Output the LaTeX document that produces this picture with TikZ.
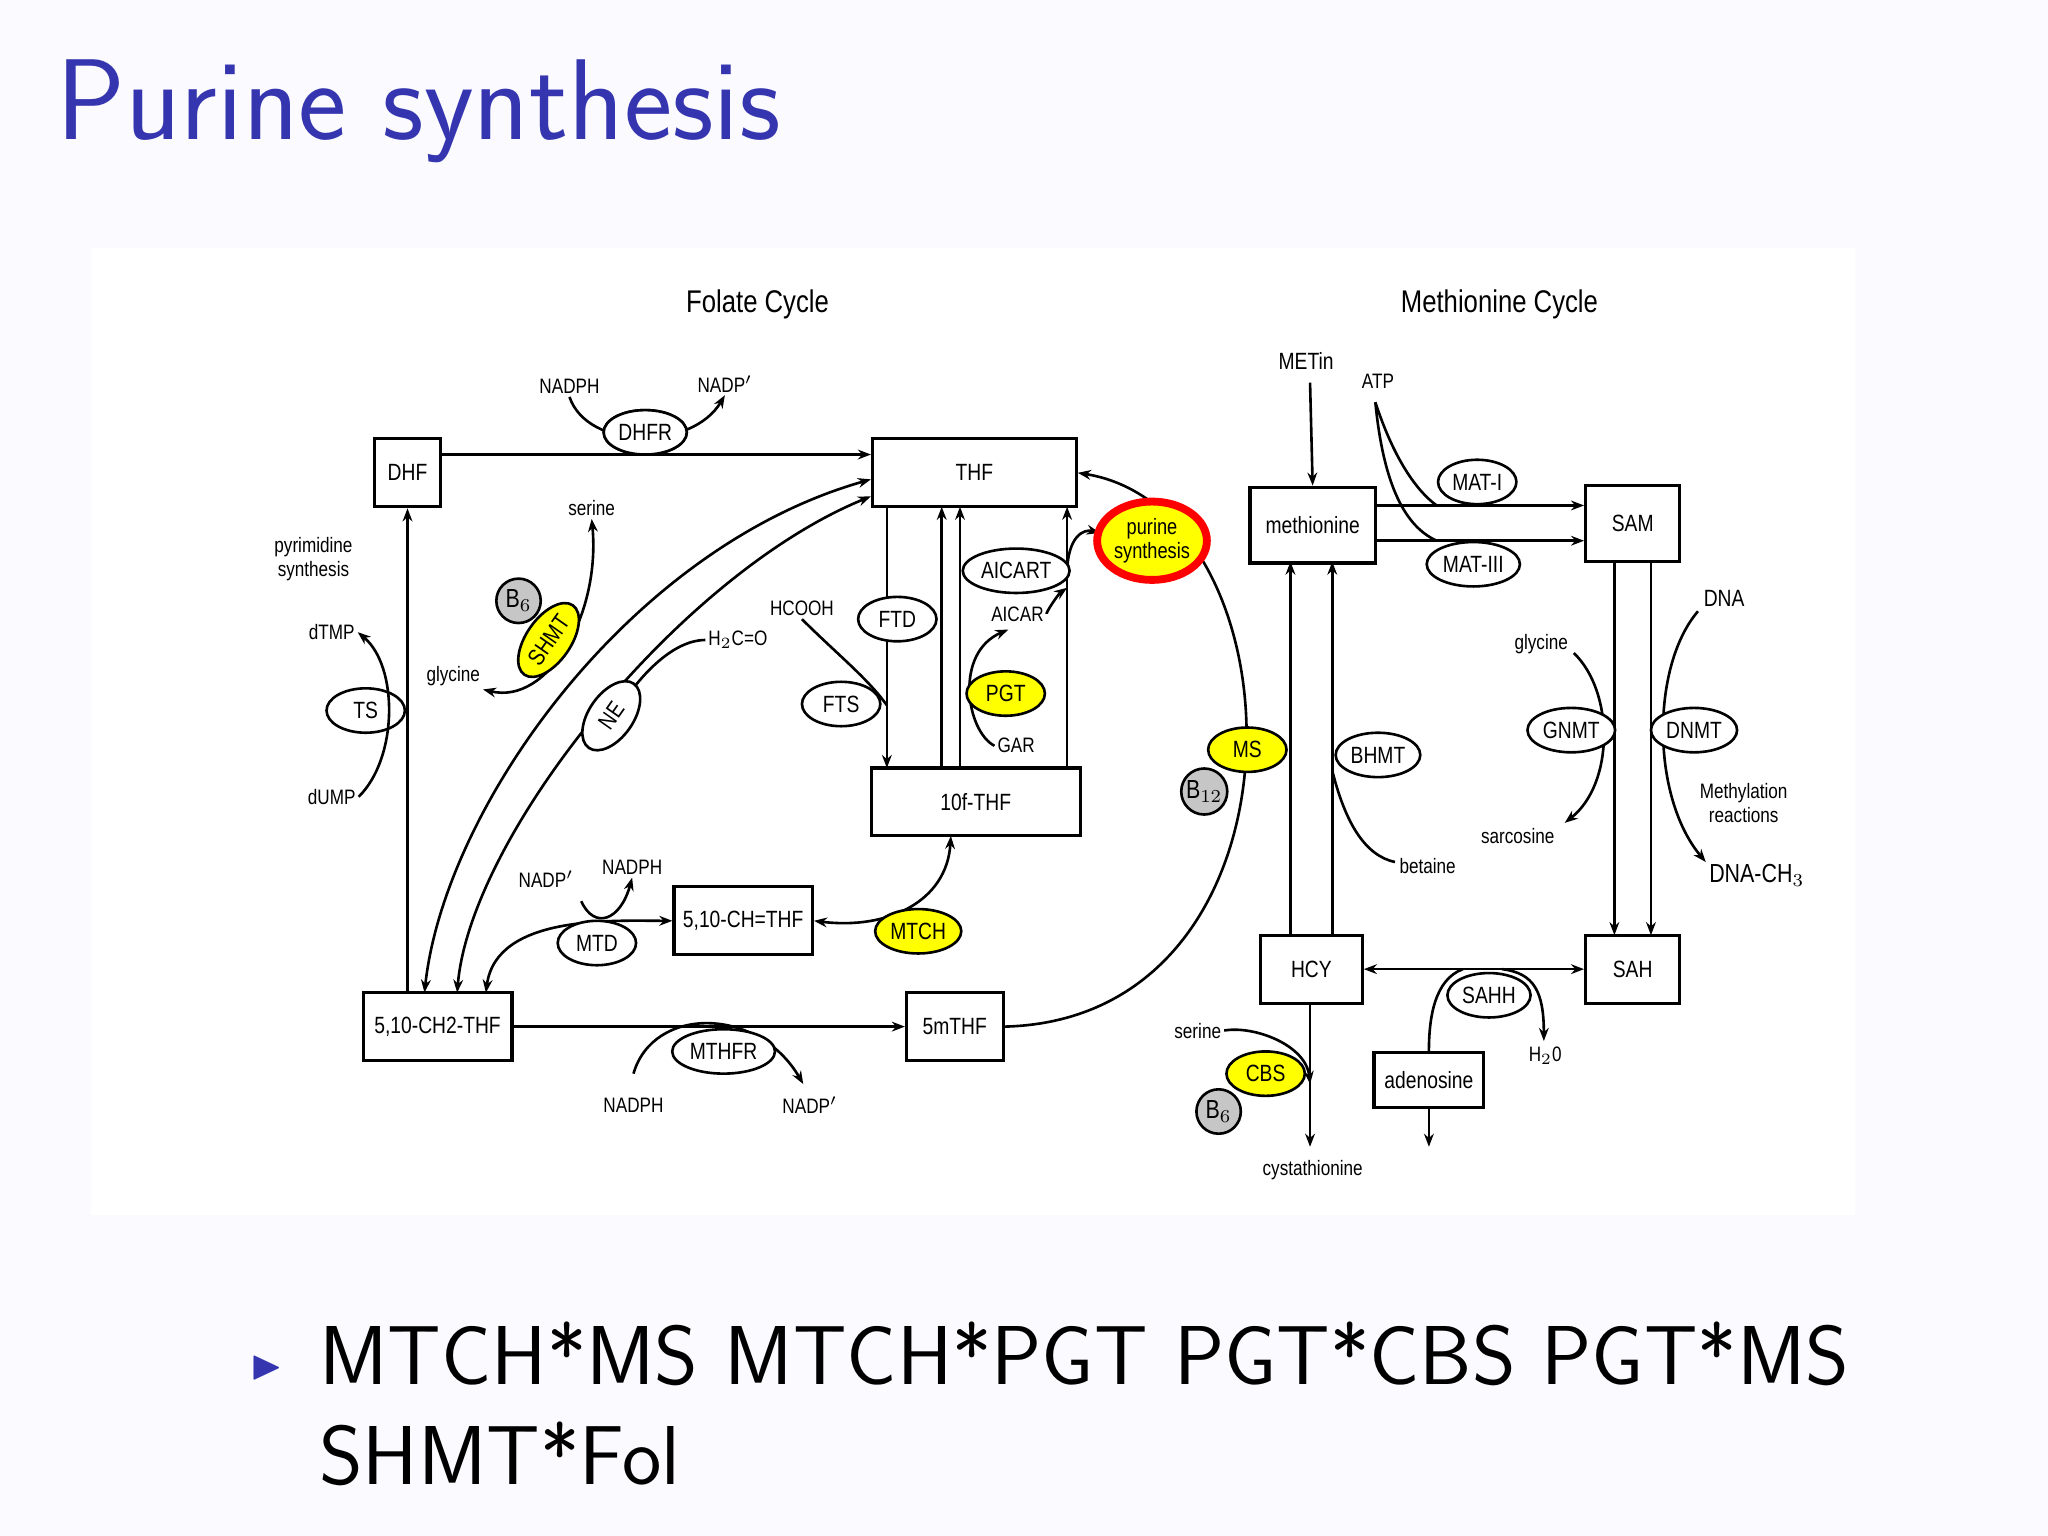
\documentclass[tikz,border=0pt]{standalone}
\usepackage{amssymb}
\usepackage{fontspec}
\newfontfamily\dg[FakeStretch=0.82]{Liberation Sans}
\usetikzlibrary{arrows.meta,shapes.geometric}
\definecolor{ttl}{HTML}{3535B0}
\definecolor{yel}{HTML}{FFFF00}
\tikzset{
 bx/.style={draw,line width=1.2pt,fill=white,minimum width=#1,minimum height=26pt,inner sep=0pt,font=\dg\fontsize{9}{10}\selectfont},
 bx/.default=40pt,
 en/.style={draw,ellipse,fill=white,line width=1pt,inner sep=1pt,minimum height=17pt,minimum width=30pt,font=\dg\fontsize{9}{10}\selectfont},
 ye/.style={en,fill=yel},
 gc/.style={draw,circle,fill=gray!45,line width=1pt,inner sep=0.5pt,minimum size=17pt,font=\dg\fontsize{10}{10}\selectfont},
 lb/.style={font=\dg\fontsize{8}{9}\selectfont,inner sep=1pt},
 ar/.style={line width=1pt,-{Stealth[length=5pt]}},
 ln/.style={line width=1pt},
}
\begin{document}
\begin{tikzpicture}[x=0.5pt,y=-0.5pt]
\fill[white!98!blue] (0,0) rectangle (1568,1176);
\useasboundingbox (0,0) rectangle (1568,1176);
\node[anchor=west,text=ttl,font=\sffamily\fontsize{44}{46}\selectfont] (title) at (36,85) {Purine synthesis};
\node[anchor=west,text=ttl,font=\sffamily\fontsize{16}{16}\selectfont] (bul) at (185,1047) {$\blacktriangleright$};
\node[anchor=north west,align=left,font=\sffamily\fontsize{32}{38}\selectfont,inner sep=0] (txt) at (244,1012) {MTCH*MS MTCH*PGT PGT*CBS PGT*MS\\SHMT*Fol};
\fill[white] (70,190) rectangle (1420,930);
\node[font=\dg\fontsize{12}{12}\selectfont] (fc) at (580,233) {Folate Cycle};
\node[font=\dg\fontsize{12}{12}\selectfont] (mc) at (1148,233) {Methionine Cycle};
% boxes
\node[bx=25pt] (dhf) at (312,362) {DHF};
\node[bx=78pt] (thf) at (746,362) {THF};
\node[bx=48pt,minimum height=29pt] (met) at (1005,402) {methionine};
\node[bx=36pt,minimum height=29pt] (sam) at (1250,401) {SAM};
\node[bx=80pt] (tf) at (747,614) {10f-THF};
\node[bx=53pt] (ch) at (569,705) {5,10-CH=THF};
\node[bx=57pt] (ch2) at (335,786) {5,10-CH2-THF};
\node[bx=37pt] (mt) at (731,786) {5mTHF};
\node[bx=39pt] (hcy) at (1004,742) {HCY};
\node[bx=36pt,minimum height=26pt] (sah) at (1250,742) {SAH};
\node[bx=42pt,minimum height=21pt] (ade) at (1094,827) {adenosine};
% main connectors
\draw[ar] (dhf.east|-0,348) -- (thf.west|-0,348);
\draw[ar] (ch2.north-|312,0) -- (dhf.south-|312,0);
\draw[ar] (ch2.east) -- (mt.west);
\draw[ar] (mt.east) .. controls (1010,780) and (1000,390) .. (thf.east);
\draw[ln,{Stealth[length=5pt]}-{Stealth[length=5pt]}] (thf.west|-0,367) .. controls (480,420) and (340,620) .. (325,760);
\draw[ln,{Stealth[length=5pt]}-{Stealth[length=5pt]}] (thf.west|-0,380) .. controls (520,440) and (360,640) .. (350,760);
\draw[ln,{Stealth[length=5pt]}-{Stealth[length=5pt]}] (372,760) .. controls (380,700) and (470,705) .. (ch.west);
\draw[ln,{Stealth[length=5pt]}-{Stealth[length=5pt]}] (ch.east) .. controls (680,712) and (725,690) .. (728,640);
\draw[ar] (679,388) -- (679,588);
\draw[ar] (721,588) -- (721,388);
\draw[ar] (735,588) -- (735,388);
\draw[ar] (817,588) -- (817,388);
\draw[ar] (817,440) .. controls (817,410) and (830,405) .. (842,408);
% folate enzymes
\node[en] (dhfr) at (494,331) {DHFR};
\node[lb] (nadph1) at (436,296) {NADPH};
\node[lb] (nadp1) at (555,294) {NADP$'$};
\draw[ar] (nadph1.south) .. controls (450,345) and (530,345) .. (nadp1.south);
\node[en] (dhfr2) at (494,331) {DHFR};
\node[en] (ts) at (280,544) {TS};
\node[lb,align=center] (pyr) at (240,428) {pyrimidine\\synthesis};
\node[lb] (dtmp) at (254,484) {dTMP};
\node[lb] (dump) at (254,610) {dUMP};
\draw[ar] (dump.east) .. controls (305,580) and (305,510) .. (dtmp.east);
\node[lb] (ser1) at (453,389) {serine};
\node[lb] (gly1) at (347,518) {glycine};
\draw[ln,{Stealth[length=5pt]}-{Stealth[length=5pt]}] (gly1.south east) .. controls (420,540) and (460,470) .. (ser1.south);
\node[ye,rotate=55] (shmt) at (420,490) {SHMT};
\node[gc] (b6a) at (397,460) {B$_6$};
\node[lb] (h2co) at (565,490) {H$_2$C=O};
\draw[ln] (h2co.west) .. controls (510,490) and (480,530) .. (470,550);
\node[en,rotate=55] (ne) at (468,548) {NE};
\node[en] (mtd) at (457,722) {MTD};
\node[lb] (nadp2) at (418,673) {NADP$'$};
\node[lb] (nadph2) at (484,664) {NADPH};
\draw[ar] (445,690) .. controls (455,712) and (475,705) .. (nadph2.south);
\node[ye] (mtch) at (703,713) {MTCH};
\node[lb] (nadph3) at (485,846) {NADPH};
\node[lb] (nadp3) at (620,846) {NADP$'$};
\draw[ar] (485,822) .. controls (500,770) and (580,770) .. (615,830);
\node[en] (mthfr) at (554,805) {MTHFR};
\node[lb] (hcooh) at (614,466) {HCOOH};
\draw[ln] (hcooh.south) .. controls (640,500) and (665,520) .. (679,540);
\node[en] (ftd) at (687,474) {FTD};
\node[en] (fts) at (644,539) {FTS};
\node[en] (aicart) at (778,437) {AICART};
\node[lb] (aicar) at (779,470) {AICAR};
\draw[ar] (aicar.east) .. controls (800,470) and (810,455) .. (817,450);
\node[lb] (gar) at (778,571) {GAR};
\draw[ar] (gar.west) .. controls (740,560) and (730,500) .. (772,482);
\node[ye] (pgt) at (770,531) {PGT};
\node[draw=red,line width=3pt,fill=yel,ellipse,inner sep=-3pt,minimum width=42pt,minimum height=30pt,align=center,font=\dg\fontsize{8.5}{9.5}\selectfont] (pur) at (882,414) {purine\\synthesis};
% methionine cycle
\node[lb,font=\dg\fontsize{9}{10}\selectfont] (metin) at (1000,276) {METin};
\draw[ar] (1003,293) -- (met.north);
\node[lb] (atp) at (1055,292) {ATP};
\draw[ar] (met.east|-0,387) -- (sam.west|-0,387);
\draw[ar] (met.east|-0,414) -- (sam.west|-0,414);
\draw[ln] (1053,308) .. controls (1070,360) and (1090,380) .. (1100,387);
\draw[ln] (1053,308) .. controls (1060,380) and (1080,405) .. (1100,414);
\node[en] (mat1) at (1131,369) {MAT-I};
\node[en] (mat3) at (1128,432) {MAT-III};
\draw[ar] (1236,429) -- (1236,716);
\draw[ar] (1264,429) -- (1264,716);
\node[lb] (gly2) at (1180,493) {glycine};
\node[lb] (sarc) at (1162,640) {sarcosine};
\draw[ar] (1205,500) .. controls (1236,530) and (1236,600) .. (1198,630);
\node[lb,font=\dg\fontsize{9}{10}\selectfont] (dna) at (1320,458) {DNA};
\node[lb,align=center] (methr) at (1335,615) {Methylation\\reactions};
\node[lb,font=\dg\fontsize{10}{10}\selectfont] (dnach) at (1345,670) {DNA-CH$_3$};
\draw[ar] (1300,468) .. controls (1264,510) and (1264,610) .. (1306,660);
\node[en] (gnmt) at (1203,559) {GNMT};
\node[en] (dnmt) at (1297,559) {DNMT};
\draw[ar] (988,716) -- (988,430);
\draw[ar] (1020,716) -- (1020,430);
\node[ye] (ms) at (955,574) {MS};
\node[gc] (b12) at (922,606) {B$_{12}$};
\node[lb] (bet) at (1093,663) {betaine};
\draw[ln] (1020,590) .. controls (1030,630) and (1045,655) .. (1068,660);
\node[en] (bhmt) at (1055,578) {BHMT};
\draw[ln,{Stealth[length=5pt]}-{Stealth[length=5pt]}] (hcy.east) -- (sah.west);
\node[lb] (h2o) at (1183,808) {H$_2$0};
\draw[ar] (1150,742) .. controls (1175,745) and (1182,760) .. (1182,797);
\draw[ln] (1120,742) .. controls (1098,750) and (1094,780) .. (ade.north);
\node[en] (sahh) at (1140,762) {SAHH};
\draw[ar] (ade.south) -- (1094,878);
\draw[ar] (1003,768) -- (1003,878);
\node[lb] (cyst) at (1005,896) {cystathionine};
\node[lb] (ser2) at (917,789) {serine};
\draw[ar] (ser2.east) .. controls (960,785) and (1000,800) .. (1003,830);
\node[ye] (cbs) at (969,822) {CBS};
\node[gc] (b6b) at (933,851) {B$_6$};
\end{tikzpicture}
\end{document}
